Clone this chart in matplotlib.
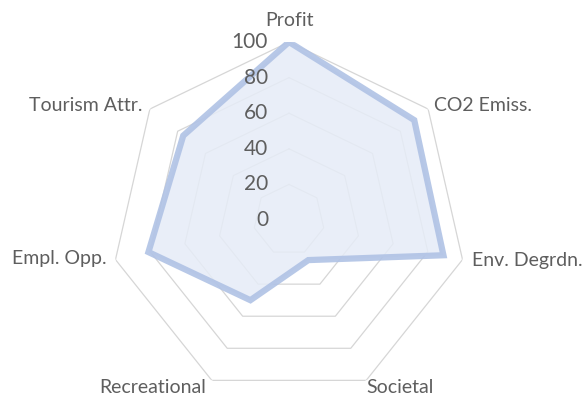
import numpy as np
import matplotlib as mpl
import matplotlib.pyplot as plt

mpl.rcParams['font.family'] = ['Lato', 'DejaVu Sans']

categories = ['Profit', 'CO2 Emiss.', 'Env. Degrdn.', 'Societal',
              'Recreational', 'Empl. Opp.', 'Tourism Attr.']
values = [100, 90, 89, 25, 50, 81, 76]
rings = [20, 40, 60, 80, 100]
ring_labels = ['0', '20', '40', '60', '80', '100']

text_col = '#5e5e5e'
grid_col = '#d6d6d6'
line_col = '#b0c2e5'
fill_col = '#e6ecf7'

n = len(categories)
angles = np.arange(n) * 2 * np.pi / n
closed = np.append(angles, angles[0])

fig = plt.figure(figsize=(5.88, 4.0), dpi=100)
ax = fig.add_axes([0.1888, 0.005, 0.6054, 0.89], projection='polar')
ax.set_theta_offset(np.pi / 2)
ax.set_theta_direction(-1)
ax.set_ylim(0, 100)
ax.grid(False)
ax.spines['polar'].set_visible(False)
ax.set_xticks([])
ax.set_yticks([])
ax.patch.set_alpha(0)

# heptagon grid
for r in rings:
    ax.plot(closed, [r] * (n + 1), color=grid_col, lw=0.9, zorder=1)

# series
vals = np.append(values, values[0])
ax.fill(closed, vals, color=fill_col, alpha=0.85, zorder=2, lw=0)
ax.plot(closed, vals, color=line_col, lw=4.5, alpha=0.9, zorder=3,
        solid_joinstyle='miter')

# value axis labels, left of the vertical axis
for r, lab in zip([0] + rings, ring_labels):
    ax.annotate(lab, xy=(0, r), xytext=(-21, 0), textcoords='offset pixels',
                ha='right', va='center', fontsize=15, color=text_col)

# category labels: (dx, dy, ha) in pixels from the outer vertex
offsets = [(0, 22, 'center'), (6, 4, 'left'), (9, -1, 'left'),
           (0, -7, 'left'), (-6, -7, 'right'), (-9, 1, 'right'),
           (-7, 4, 'right')]
for ang, lab, (dx, dy, ha) in zip(angles, categories, offsets):
    ax.annotate(lab, xy=(ang, 100), xytext=(dx, dy), textcoords='offset pixels',
                ha=ha, va='center', fontsize=14, color=text_col)

fig.savefig('out.png', dpi=100)
